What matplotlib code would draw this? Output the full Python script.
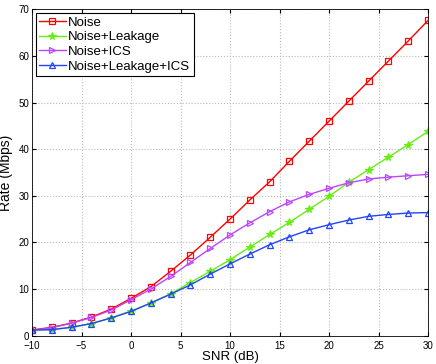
import matplotlib
matplotlib.use("Agg")
import matplotlib.pyplot as plt

snr = [-10, -8, -6, -4, -2, 0, 2, 4, 6, 8, 10, 12, 14, 16, 18, 20, 22, 24, 26, 28, 30]
noise = [1.2, 1.8, 2.7, 4.0, 5.7, 8.0, 10.5, 13.8, 17.3, 21.1, 25.0, 29.1, 33.0,
         37.4, 41.7, 46.0, 50.3, 54.6, 58.9, 63.2, 67.6]
noise_leak = [1.2, 1.3, 1.8, 2.6, 3.8, 5.3, 7.0, 9.0, 11.4, 13.8, 16.3, 19.0, 21.7,
              24.3, 27.1, 29.9, 32.9, 35.6, 38.3, 41.0, 43.8]
noise_ics = [1.2, 1.7, 2.7, 3.9, 5.5, 7.7, 10.0, 12.7, 15.7, 18.7, 21.6, 24.2, 26.6,
             28.7, 30.3, 31.6, 32.8, 33.6, 34.0, 34.3, 34.6]
noise_leak_ics = [1.2, 1.3, 1.8, 2.6, 3.8, 5.2, 7.0, 8.9, 10.9, 13.2, 15.4, 17.5, 19.5,
                  21.2, 22.7, 23.8, 24.8, 25.6, 26.0, 26.3, 26.4]

plt.rcParams['font.family'] = ['Liberation Sans', 'DejaVu Sans']

fig = plt.figure(figsize=(4.36, 3.64), dpi=100)
ax = fig.add_axes([0.0734, 0.0778, 0.9083, 0.8967])

series = [
    (noise, 'Noise', '#ff0000', 's'),
    (noise_leak, 'Noise+Leakage', '#66ee11', '*'),
    (noise_ics, 'Noise+ICS', '#bb44ff', '>'),
    (noise_leak_ics, 'Noise+Leakage+ICS', '#2244ff', '^'),
]
for y, lab, c, m in series:
    ax.plot(snr, y, color=c, lw=1.0, marker=m, markersize=4.5 if m != '*' else 5.5,
            markerfacecolor='none' if m != '*' else c, markeredgecolor=c,
            markeredgewidth=0.9, label=lab)

ax.set_xlim(-10, 30)
ax.set_ylim(0, 70)
ax.set_xticks(range(-10, 31, 5))
ax.set_yticks(range(0, 71, 10))
ax.grid(True, linestyle=':', color='#bbbbbb', lw=0.8)
ax.tick_params(direction='in', top=True, right=True, labelsize=7, length=3)
ax.tick_params(axis='x', pad=3.5)
ax.tick_params(axis='y', pad=2)
for s in ax.spines.values():
    s.set_linewidth(0.6)
ax.set_xlabel('SNR (dB)', fontsize=9.5, labelpad=0)
ax.set_ylabel('Rate (Mbps)', fontsize=10, labelpad=4)

leg = ax.legend(loc='upper left', fontsize=9.5, fancybox=False, edgecolor='black',
                framealpha=1, borderpad=0.25, labelspacing=0.18, handlelength=2.0,
                handletextpad=0.2, borderaxespad=0.3)
leg.get_frame().set_linewidth(0.8)

fig.savefig('out.png', dpi=100)
